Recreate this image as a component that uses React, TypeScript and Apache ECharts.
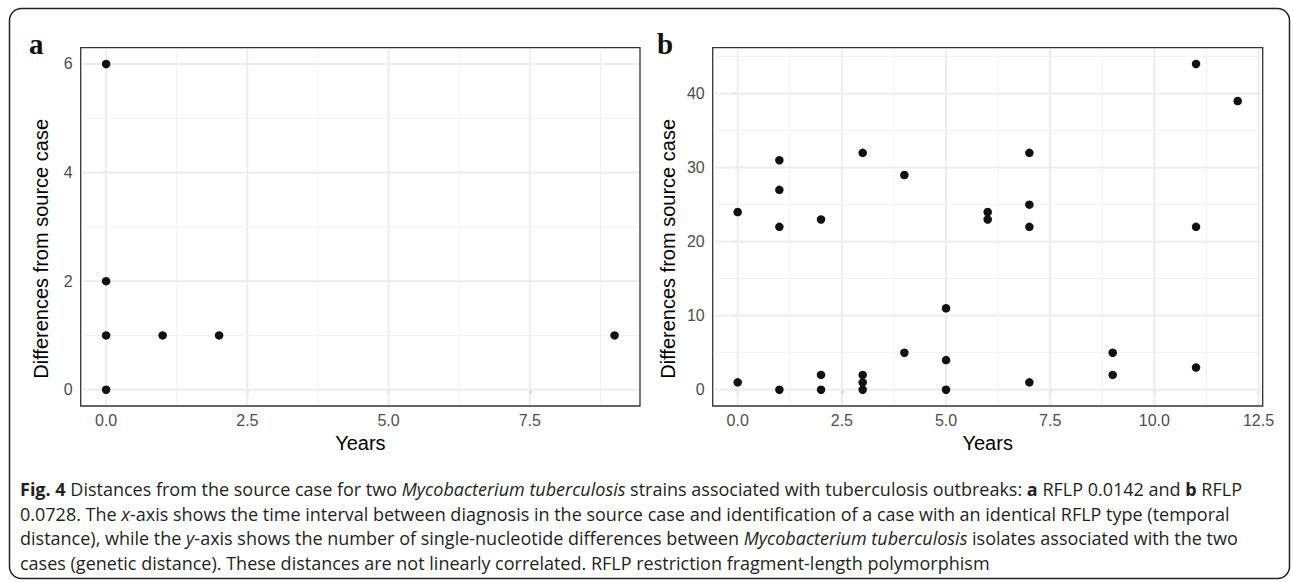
import React, { useEffect, useRef } from "react";
import * as echarts from "echarts";

// Panel a (RFLP 0.0142)
const aYears = [0, 0, 0, 0, 1, 2, 9];
const aDiffs = [6, 2, 1, 0, 1, 1, 1];
const aXTicks = [0, 2.5, 5, 7.5];
const aXMinor = [1.25, 3.75, 6.25, 8.75];
const aYTicks = [0, 2, 4, 6];
const aYMinor = [1, 3, 5];

// Panel b (RFLP 0.0728)
const bYears = [0, 0, 1, 1, 1, 1, 2, 2, 2, 3, 3, 3, 3, 4, 4, 5, 5, 5, 6, 6, 7, 7, 7, 7, 9, 9, 11, 11, 11, 12];
const bDiffs = [24, 1, 31, 27, 22, 0, 23, 2, 0, 32, 2, 1, 0, 29, 5, 11, 4, 0, 24, 23, 32, 25, 22, 1, 5, 2, 44, 22, 3, 39];
const bXTicks = [0, 2.5, 5, 7.5, 10, 12.5];
const bXMinor = [1.25, 3.75, 6.25, 8.75, 11.25];
const bYTicks = [0, 10, 20, 30, 40];
const bYMinor = [5, 15, 25, 35, 45];

const xTitle = "Years";
const yTitle = "Differences from source case";

const captionLines = [
  "{b|Fig. 4} Distances from the source case for two {i|Mycobacterium tuberculosis} strains associated with tuberculosis outbreaks: {b|a} RFLP 0.0142 and {b|b} RFLP",
  "0.0728. The {i|x}-axis shows the time interval between diagnosis in the source case and identification of a case with an identical RFLP type (temporal",
  "distance), while the {i|y}-axis shows the number of single-nucleotide differences between {i|Mycobacterium tuberculosis} isolates associated with the two",
  "cases (genetic distance). These distances are not linearly correlated. RFLP restriction fragment-length polymorphism",
];

const AXIS_FONT = "Liberation Sans";
const CAP_FONT = "Open Sans";
const CAP_SIZE = 18;

function gridData(xMajor: number[], xMinor: number[], yMajor: number[], yMinor: number[]) {
  const d: number[][] = [];
  xMajor.forEach((v) => d.push([v, 0]));
  xMinor.forEach((v) => d.push([v, 1]));
  yMajor.forEach((v) => d.push([v, 2]));
  yMinor.forEach((v) => d.push([v, 3]));
  return d;
}

function renderGrid(params: any, api: any) {
  const cs = params.coordSys;
  const v = api.value(0);
  const kind = api.value(1);
  const major = kind === 0 || kind === 2;
  const style = { stroke: major ? "#ebebeb" : "#f0f0f0", lineWidth: major ? 1.8 : 1 };
  if (kind <= 1) {
    const px = api.coord([v, 0])[0];
    return { type: "line", shape: { x1: px, y1: cs.y + 1, x2: px, y2: cs.y + cs.height - 1 }, style };
  }
  const py = api.coord([0, v])[1];
  return { type: "line", shape: { x1: cs.x + 1, y1: py, x2: cs.x + cs.width - 1, y2: py }, style };
}

function xAxisCfg(gridIndex: number, min: number, max: number, ticks: number[]) {
  return {
    type: "value",
    gridIndex,
    min,
    max,
    name: xTitle,
    nameLocation: "middle",
    nameGap: 25,
    nameTextStyle: { fontSize: 20, color: "#000", fontFamily: AXIS_FONT },
    axisLine: { show: false },
    splitLine: { show: false },
    axisTick: { show: true, length: 4, customValues: ticks, lineStyle: { color: "#333", width: 1.2 } },
    axisLabel: {
      customValues: ticks,
      formatter: (v: number) => v.toFixed(1),
      color: "#4d4d4d",
      fontSize: 16,
      fontFamily: AXIS_FONT,
      margin: 6,
    },
  };
}

function yAxisCfg(gridIndex: number, min: number, max: number, ticks: number[], nameGap: number) {
  return {
    type: "value",
    gridIndex,
    min,
    max,
    name: yTitle,
    nameLocation: "middle",
    nameGap,
    // the title is centred on the panel plus the x-axis area, i.e. a little below the panel centre
    nameTextStyle: { fontSize: 20, color: "#000", fontFamily: AXIS_FONT, padding: [0, 44, 0, 0] },
    axisLine: { show: false },
    splitLine: { show: false },
    axisTick: { show: true, length: 4, customValues: ticks, lineStyle: { color: "#333", width: 1.2 } },
    axisLabel: {
      customValues: ticks,
      formatter: (v: number) => String(v),
      color: "#4d4d4d",
      fontSize: 16,
      fontFamily: AXIS_FONT,
      margin: 8,
    },
  };
}

export default function App() {
  const ref = useRef<HTMLDivElement>(null);
  useEffect(() => {
    if (!ref.current) return;
    const chart = echarts.init(ref.current, undefined, { renderer: "svg" });
    const capStyle = (extra: any) => ({ fontSize: CAP_SIZE, fontFamily: CAP_FONT, fill: "#231f20", ...extra });
    const option: any = {
      animation: false,
      backgroundColor: "#fff",
      grid: [
        { left: 80.7, top: 47.7, width: 559.3, height: 358.3, show: true, borderColor: "#333", borderWidth: 1.3, backgroundColor: "transparent" },
        { left: 712.7, top: 47.7, width: 550, height: 358.3, show: true, borderColor: "#333", borderWidth: 1.3, backgroundColor: "transparent" },
      ],
      xAxis: [xAxisCfg(0, -0.45, 9.45, aXTicks), xAxisCfg(1, -0.6, 12.6, bXTicks)],
      yAxis: [yAxisCfg(0, -0.3, 6.3, aYTicks, 30), yAxisCfg(1, -2.2, 46.2, bYTicks, 35)],
      series: [
        {
          type: "custom",
          xAxisIndex: 0,
          yAxisIndex: 0,
          z: 1,
          silent: true,
          renderItem: renderGrid,
          data: gridData(aXTicks, aXMinor, aYTicks, aYMinor),
        },
        {
          type: "custom",
          xAxisIndex: 1,
          yAxisIndex: 1,
          z: 1,
          silent: true,
          renderItem: renderGrid,
          data: gridData(bXTicks, bXMinor, bYTicks, bYMinor),
        },
        {
          type: "scatter",
          xAxisIndex: 0,
          yAxisIndex: 0,
          z: 3,
          symbolSize: 8.5,
          itemStyle: { color: "#111", opacity: 1 },
          data: aYears.map((x, i) => [x, aDiffs[i]]),
        },
        {
          type: "scatter",
          xAxisIndex: 1,
          yAxisIndex: 1,
          z: 3,
          symbolSize: 8.5,
          itemStyle: { color: "#111", opacity: 1 },
          data: bYears.map((x, i) => [x, bDiffs[i]]),
        },
      ],
      graphic: [
        {
          type: "rect",
          shape: { x: 9.5, y: 8.5, width: 1280, height: 570, r: 12 },
          style: { fill: "none", stroke: "#222", lineWidth: 1.5 },
          silent: true,
        },
        {
          type: "text",
          x: 29,
          y: 58,
          style: { text: "a", fontSize: 29, fontWeight: "bold", fontFamily: "Liberation Serif", fill: "#111", verticalAlign: "bottom" },
        },
        {
          type: "text",
          x: 657,
          y: 58,
          style: { text: "b", fontSize: 29, fontWeight: "bold", fontFamily: "Liberation Serif", fill: "#111", verticalAlign: "bottom" },
        },
        ...captionLines.map((t, i) => ({
          type: "text",
          x: 20,
          y: 489 + i * 24.5,
          style: capStyle({
            text: t,
            verticalAlign: "middle",
            rich: {
              b: { fontSize: CAP_SIZE, fontFamily: CAP_FONT, fontWeight: "bold", fill: "#231f20" },
              i: { fontSize: CAP_SIZE, fontFamily: CAP_FONT, fontStyle: "italic", fill: "#231f20" },
            },
          }),
        })),
      ],
    };
    chart.setOption(option);
    return () => chart.dispose();
  }, []);
  return <div ref={ref} style={{ position: "fixed", left: 0, top: 0, width: 1293, height: 582 }} />;
}
